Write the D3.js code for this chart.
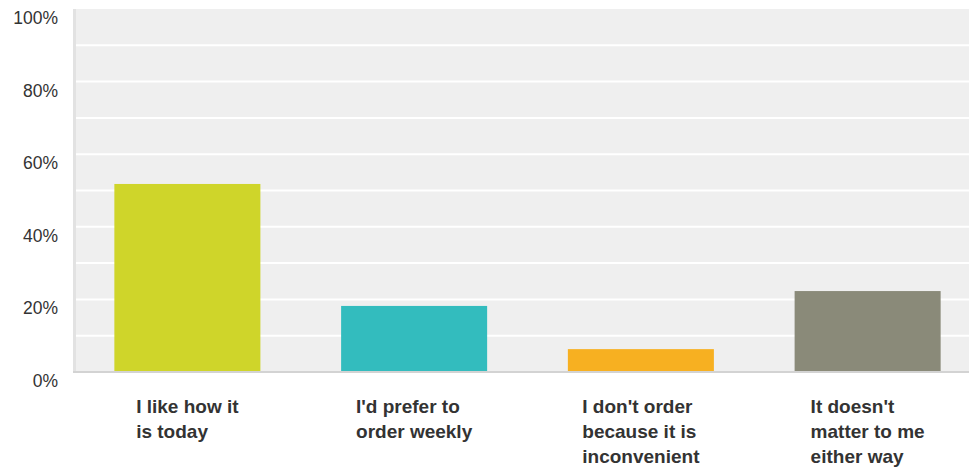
<!DOCTYPE html>
<html>
<head>
<meta charset="utf-8">
<script src="https://cdn.jsdelivr.net/npm/d3@7"></script>
<style>
  html, body { margin: 0; padding: 0; background: #fff; }
  svg { display: block; }
</style>
</head>
<body>
<svg id="chart" width="969" height="471"></svg>
<script>
const categories = [
  ["I like how it", "is today"],
  ["I'd prefer to", "order weekly"],
  ["I don't order", "because it is", "inconvenient"],
  ["It doesn't", "matter to me", "either way"]
];
const values = [0.518, 0.182, 0.063, 0.223];
const colors = ["#cfd52a", "#33bcbe", "#f7b021", "#8a8a79"];
const yTicks = [0, 0.2, 0.4, 0.6, 0.8, 1.0];
const gridTicks = [0.1, 0.2, 0.3, 0.4, 0.5, 0.6, 0.7, 0.8, 0.9];

const svg = d3.select("#chart");
const plot = { left: 74, top: 9, right: 969, bottom: 372 };

const x = d3.scaleBand()
  .domain(d3.range(categories.length))
  .range([74, 981])
  .paddingInner(0.356)
  .paddingOuter(0.178);
const y = d3.scaleLinear().domain([0, 1]).range([plot.bottom, plot.top]);

// plot background
svg.append("rect")
  .attr("x", plot.left).attr("y", plot.top)
  .attr("width", plot.right - plot.left).attr("height", plot.bottom - plot.top)
  .attr("fill", "#efefef");

// gridlines
svg.append("g").selectAll("line").data(gridTicks).join("line")
  .attr("x1", plot.left).attr("x2", plot.right)
  .attr("y1", d => y(d)).attr("y2", d => y(d))
  .attr("stroke", "#ffffff").attr("stroke-width", 2);

// left axis line
svg.append("rect")
  .attr("x", 73).attr("y", plot.top)
  .attr("width", 3).attr("height", plot.bottom - plot.top)
  .attr("fill", "#e2e2e2");

// bars
svg.append("g").selectAll("rect").data(values).join("rect")
  .attr("x", (d, i) => x(i))
  .attr("width", x.bandwidth())
  .attr("y", d => y(d))
  .attr("height", d => y(0) - y(d))
  .attr("fill", (d, i) => colors[i]);

// bottom axis line
svg.append("line")
  .attr("x1", 73).attr("x2", plot.right)
  .attr("y1", plot.bottom).attr("y2", plot.bottom)
  .attr("stroke", "#d3d3d3").attr("stroke-width", 2);

// y tick labels
const yAxis = d3.axisLeft(y).tickValues(yTicks).tickFormat(d3.format(".0%")).tickSize(0).tickPadding(0);
const yg = svg.append("g").attr("transform", "translate(58,0)").call(yAxis);
yg.select(".domain").remove();
yg.selectAll("text")
  .attr("dy", null)
  .attr("y", 14.5)
  .attr("font-family", "Liberation Sans, Arial, sans-serif")
  .attr("font-size", "17.5px")
  .attr("fill", "#333");

// category labels
const lg = svg.append("g");
categories.forEach((lines, i) => {
  const t = lg.append("text")
    .attr("font-family", "Liberation Sans, Arial, sans-serif")
    .attr("font-size", "19px")
    .attr("font-weight", "bold")
    .attr("fill", "#333");
  lines.forEach((ln, j) => {
    t.append("tspan").attr("y", 413 + j * 25).text(ln);
  });
  let maxW = 0;
  t.selectAll("tspan").each(function() { maxW = Math.max(maxW, this.getComputedTextLength()); });
  const cx = x(i) + x.bandwidth() / 2;
  t.selectAll("tspan").attr("x", cx - maxW / 2);
});
</script>
</body>
</html>
